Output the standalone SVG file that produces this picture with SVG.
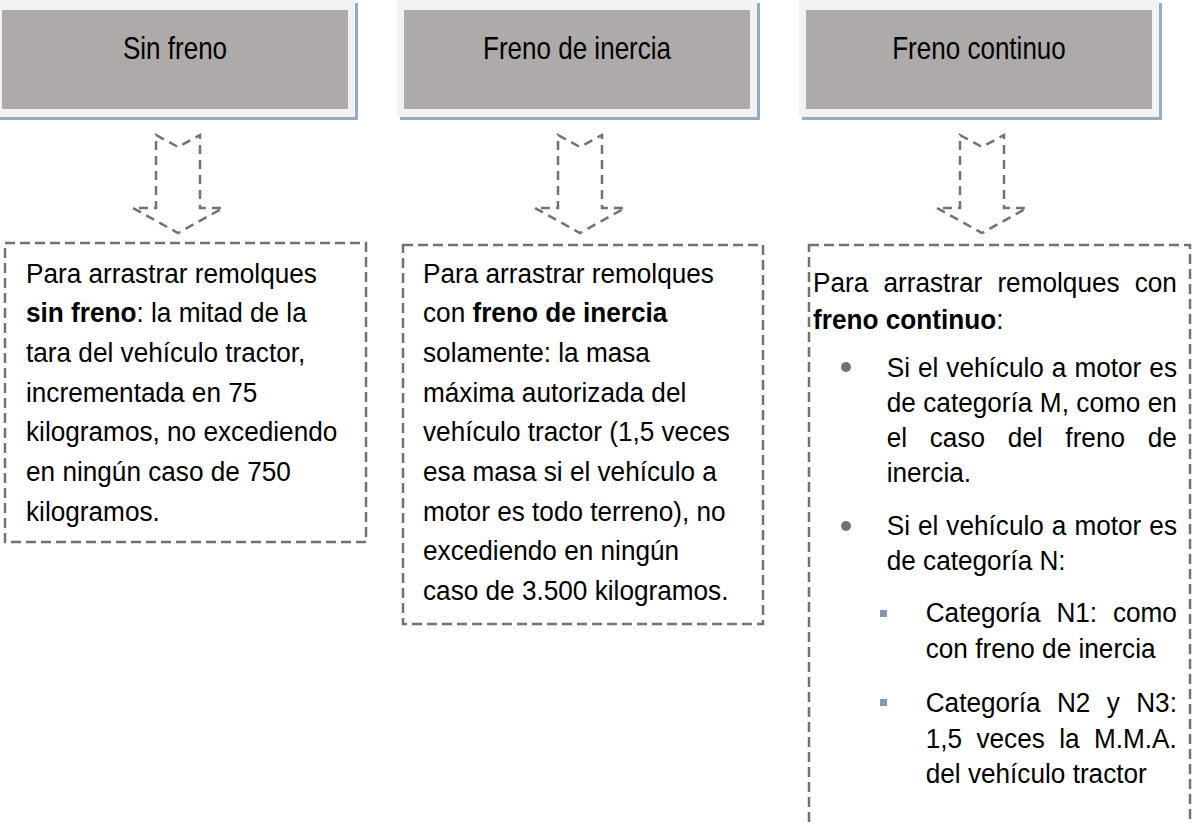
<svg xmlns="http://www.w3.org/2000/svg" width="1194" height="823" viewBox="0 0 1194 823">
<style>
.shadow{fill:#97aac4}
.band{fill:#f2f2f2}
.hdr{fill:#aeaaaa}
.htxt{font-family:"Liberation Sans",Arial,sans-serif;font-size:31px;fill:#000;text-anchor:middle}
.txt{font-family:"Liberation Sans",Arial,sans-serif;font-size:28px;fill:#000}
.b{font-weight:bold}
.dash{fill:none;stroke:#767171;stroke-width:2.5;stroke-dasharray:10 5}
.arrow{fill:#fff;stroke:#767171;stroke-width:2.5;stroke-dasharray:9 6}
.dot{fill:#767171}
.sq{fill:#8497b0}
</style>
<rect width="1194" height="823" fill="#fff"/>
<g id="hdr1">
<rect class="shadow" x="-2" y="3" width="360" height="117"/>
<rect class="band" x="-5" y="0" width="360" height="117"/>
<rect class="hdr" x="2" y="10" width="346" height="99"/>
<text class="htxt" transform="translate(175 58.5) scale(.84 1)">Sin freno</text>
</g>
<g id="hdr2">
<rect class="shadow" x="400" y="3" width="360" height="117"/>
<rect class="band" x="397" y="0" width="360" height="117"/>
<rect class="hdr" x="404" y="10" width="346" height="99"/>
<text class="htxt" transform="translate(577 58.5) scale(.84 1)">Freno de inercia</text>
</g>
<g id="hdr3">
<rect class="shadow" x="802" y="3" width="360" height="117"/>
<rect class="band" x="799" y="0" width="360" height="117"/>
<rect class="hdr" x="806" y="10" width="346" height="99"/>
<text class="htxt" transform="translate(979 58.5) scale(.84 1)">Freno continuo</text>
</g>
<g id="connectors">
<polygon class="arrow" points="156,135 178,147 200,135 200,208 223,208 178,233 133,208 156,208"/>
<polygon class="arrow" points="558,135 580,147 602,135 602,208 625,208 580,233 535,208 558,208"/>
<polygon class="arrow" points="960,135 982,147 1004,135 1004,208 1027,208 982,233 937,208 960,208"/>
</g>
<g id="box1">
<rect class="dash" x="5" y="243" width="361" height="299"/>
<text class="txt" transform="translate(26 282.5) scale(.935 1)">Para arrastrar remolques</text>
<text class="txt" transform="translate(26 322.2) scale(.935 1)"><tspan class="b">sin freno</tspan>: la mitad de la</text>
<text class="txt" transform="translate(26 361.9) scale(.935 1)">tara del vehículo tractor,</text>
<text class="txt" transform="translate(26 401.6) scale(.935 1)">incrementada en 75</text>
<text class="txt" transform="translate(26 441.3) scale(.935 1)">kilogramos, no excediendo</text>
<text class="txt" transform="translate(26 481) scale(.935 1)">en ningún caso de 750</text>
<text class="txt" transform="translate(26 520.7) scale(.935 1)">kilogramos.</text>
</g>
<g id="box2">
<rect class="dash" x="403" y="245" width="360" height="379"/>
<text class="txt" transform="translate(423 282.5) scale(.935 1)">Para arrastrar remolques</text>
<text class="txt" transform="translate(423 322.2) scale(.935 1)">con <tspan class="b">freno de inercia</tspan></text>
<text class="txt" transform="translate(423 361.9) scale(.935 1)">solamente: la masa</text>
<text class="txt" transform="translate(423 401.6) scale(.935 1)">máxima autorizada del</text>
<text class="txt" transform="translate(423 441.3) scale(.935 1)">vehículo tractor (1,5 veces</text>
<text class="txt" transform="translate(423 481) scale(.935 1)">esa masa si el vehículo a</text>
<text class="txt" transform="translate(423 520.7) scale(.935 1)">motor es todo terreno), no</text>
<text class="txt" transform="translate(423 560.4) scale(.935 1)">excediendo en ningún</text>
<text class="txt" transform="translate(423 600.1) scale(.935 1)">caso de 3.500 kilogramos.</text>
</g>
<g id="box3">
<rect class="dash" x="809" y="245" width="381" height="620"/>
<text class="txt" transform="translate(813 292) scale(.935 1)" word-spacing="8.4">Para arrastrar remolques con</text>
<text class="txt" transform="translate(813 328.5) scale(.935 1)"><tspan class="b">freno continuo</tspan>:</text>
<circle class="dot" cx="846" cy="367" r="5"/>
<text class="txt" transform="translate(886.7 377) scale(.935 1)" word-spacing="0.8">Si el vehículo a motor es</text>
<text class="txt" transform="translate(886.7 412) scale(.935 1)" word-spacing="0.2">de categoría M, como en</text>
<text class="txt" transform="translate(886.7 447) scale(.935 1)" word-spacing="16.5">el caso del freno de</text>
<text class="txt" transform="translate(886.7 482) scale(.935 1)">inercia.</text>
<circle class="dot" cx="846" cy="526" r="5"/>
<text class="txt" transform="translate(886.7 535) scale(.935 1)" word-spacing="0.8">Si el vehículo a motor es</text>
<text class="txt" transform="translate(886.7 570) scale(.935 1)">de categoría N:</text>
<rect class="sq" x="880" y="610" width="7" height="7"/>
<text class="txt" transform="translate(925.7 622) scale(.935 1)" word-spacing="9.1">Categoría N1: como</text>
<text class="txt" transform="translate(925.7 658) scale(.935 1)">con freno de inercia</text>
<rect class="sq" x="880" y="699" width="7" height="7"/>
<text class="txt" transform="translate(925.7 712) scale(.935 1)" word-spacing="9.7">Categoría N2 y N3:</text>
<text class="txt" transform="translate(925.7 748) scale(.935 1)" word-spacing="7.6">1,5 veces la M.M.A.</text>
<text class="txt" transform="translate(925.7 783) scale(.935 1)">del vehículo tractor</text>
</g>
</svg>
